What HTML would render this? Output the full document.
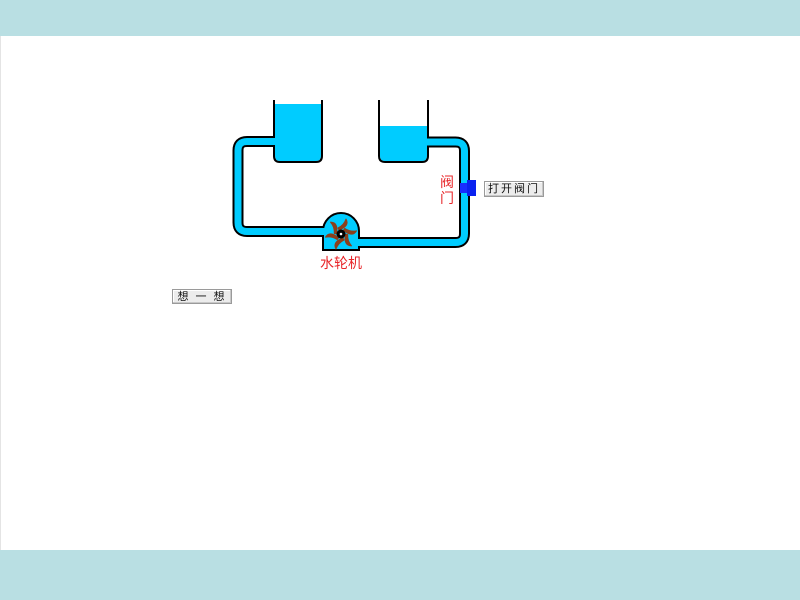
<!DOCTYPE html>
<html>
<head>
<meta charset="utf-8">
<style>
  html,body{margin:0;padding:0;}
  body{width:800px;height:600px;position:relative;background:#fff;overflow:hidden;
       font-family:"Liberation Sans","Noto Sans CJK SC",sans-serif;}
  .band{position:absolute;left:0;width:800px;background:#b9dfe3;}
  .btn{position:absolute;box-sizing:border-box;background:#ececec;border:1px solid #9a9a9a;
       box-shadow:inset -1px -1px 0 #c8c8c8, inset 1px 1px 0 #fff;
       font-size:11px;color:#111;text-align:center;line-height:14px;
       font-family:"Liberation Sans","Noto Sans CJK SC",sans-serif;}
  .lbl{position:absolute;color:#e8262a;font-size:14px;line-height:16px;
       font-family:"Liberation Sans","Noto Sans CJK SC",sans-serif;}
</style>
</head>
<body>
<div class="band" style="top:0;height:36px;"></div>
<div style="position:absolute;left:0;top:36px;width:1px;height:514px;background:#e4e4e4;"></div>
<div class="band" style="top:550px;height:50px;"></div>

<svg width="800" height="600" style="position:absolute;left:0;top:0;" xmlns="http://www.w3.org/2000/svg">
  <!-- pipes black -->
  <path d="M276,141.5 H247 Q238,141.5 238,150.5 V222.5 Q238,231.5 247,231.5 H327" fill="none" stroke="#000" stroke-width="11"/>
  <path d="M427,142 H455.5 Q464.5,142 464.5,151 V233.5 Q464.5,242.5 455.5,242.5 H355" fill="none" stroke="#000" stroke-width="11"/>
  <!-- housing -->
  <path d="M323,250 V231 A18,18 0 0 1 359,231 V250 Z" fill="#00ccff" stroke="#000" stroke-width="2"/>
  <!-- pipes cyan -->
  <path d="M277,141.5 H247 Q238,141.5 238,150.5 V222.5 Q238,231.5 247,231.5 H327" fill="none" stroke="#00ccff" stroke-width="7"/>
  <path d="M426,142 H455.5 Q464.5,142 464.5,151 V233.5 Q464.5,242.5 455.5,242.5 H355" fill="none" stroke="#00ccff" stroke-width="7"/>
  <!-- tank water -->
  <path d="M275,104 H321 V156 Q321,161 316,161 H280 Q275,161 275,156 Z" fill="#00ccff"/>
  <path d="M380,126 H427 V156 Q427,161 422,161 H385 Q380,161 380,156 Z" fill="#00ccff"/>
  <!-- tank walls -->
  <path d="M274,100 V137 M274,146 V156 Q274,162 280,162 H316 Q322,162 322,156 V100" fill="none" stroke="#000" stroke-width="2"/>
  <path d="M379,100 V156 Q379,162 385,162 H422 Q428,162 428,156 V147.5 M428,136.5 V100" fill="none" stroke="#000" stroke-width="2"/>
  <!-- wheel -->
  <g transform="translate(341,234)" fill="#8a3f1c" stroke="#8a3f1c" stroke-width="1" stroke-linejoin="round">
    <path d="M-2,-4 Q9,-8 5,-15 Q3,-9 -3,-6 Z"/>
    <path d="M-2,-4 Q9,-8 5,-15 Q3,-9 -3,-6 Z" transform="rotate(60)"/>
    <path d="M-2,-4 Q9,-8 5,-15 Q3,-9 -3,-6 Z" transform="rotate(120)"/>
    <path d="M-2,-4 Q9,-8 5,-15 Q3,-9 -3,-6 Z" transform="rotate(180)"/>
    <path d="M-2,-4 Q9,-8 5,-15 Q3,-9 -3,-6 Z" transform="rotate(240)"/>
    <path d="M-2,-4 Q9,-8 5,-15 Q3,-9 -3,-6 Z" transform="rotate(300)"/>
  </g>
  <circle cx="341" cy="234" r="4.5" fill="#000"/>
  <circle cx="341" cy="234" r="1.3" fill="#fff"/>
  <!-- valve -->
  <rect x="460" y="183" width="8" height="10" fill="#1a2cff"/>
  <rect x="467" y="180" width="9" height="16" fill="#0a22f0"/>
</svg>

<div class="lbl" style="left:320px;top:255px;">水轮机</div>
<div class="lbl" style="left:440px;top:174px;width:14px;">阀<br>门</div>

<div class="btn" style="left:484px;top:181px;width:60px;height:16px;letter-spacing:2px;">打开阀门</div>
<div class="btn" style="left:172px;top:289px;width:60px;height:15px;letter-spacing:2px;">想 一 想</div>
</body>
</html>
